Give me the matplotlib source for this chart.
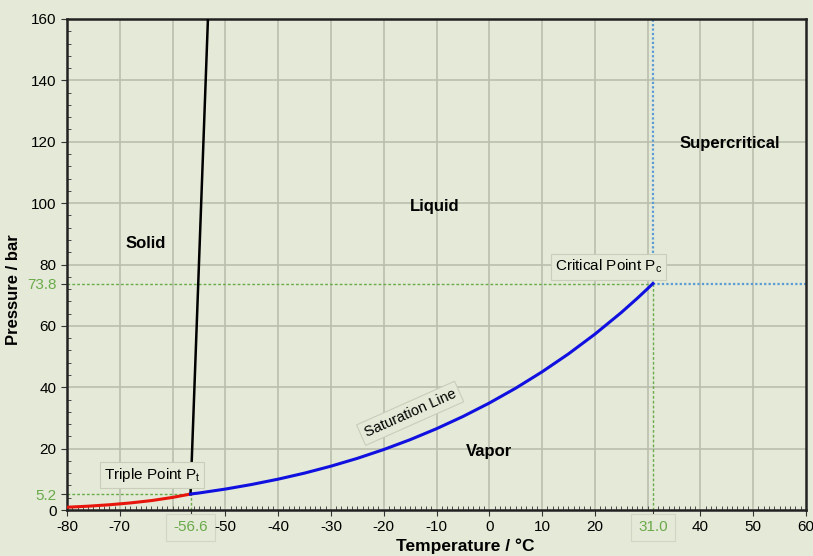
import numpy as np
import matplotlib
matplotlib.use('Agg')
import matplotlib.pyplot as plt
from matplotlib.ticker import MultipleLocator

plt.rcParams['font.family'] = ['Liberation Sans', 'DejaVu Sans']

# CO2 phase diagram data
sub_T = [-80, -76, -72, -68, -64, -60, -56.6]
sub_P = [0.9, 1.24, 1.7, 2.3, 3.07, 4.1, 5.2]

melt_T = [-56.6, -53.3]
melt_P = [5.2, 160]

sat_T = [-56.6, -55, -50, -45, -40, -35, -30, -25, -20, -15, -10, -5, 0,
         5, 10, 15, 20, 25, 28, 30, 31.0]
sat_P = [5.2, 5.54, 6.82, 8.32, 10.05, 12.02, 14.28, 16.83, 19.7, 22.91, 26.49,
         30.46, 34.85, 39.69, 45.02, 50.87, 57.29, 64.34, 68.93, 72.14, 73.8]

triple = (-56.6, 5.2)
critical = (31.0, 73.8)

xticks = [-80, -70, -56.6, -50, -40, -30, -20, -10, 0, 10, 20, 31.0, 40, 50, 60]
xticklabels = ['-80', '-70', '-56.6', '-50', '-40', '-30', '-20', '-10', '0',
               '10', '20', '31.0', '40', '50', '60']
yticks = [0, 5.2, 20, 40, 60, 73.8, 80, 100, 120, 140, 160]
yticklabels = ['0', '5.2', '20', '40', '60', '73.8', '80', '100', '120', '140', '160']

bg = '#e4ead7'
green = '#6aaa4a'
W, H = 813, 556

fig = plt.figure(figsize=(W / 100, H / 100), dpi=100, facecolor=bg)
ax = fig.add_axes([67 / W, 46 / H, 739 / W, 491 / H], facecolor=bg)

# grid
for gx in range(-70, 60, 10):
    ax.axvline(gx, color='#b9bfac', lw=1.2, zorder=0)
for gy in range(20, 160, 20):
    ax.axhline(gy, color='#b9bfac', lw=1.2, zorder=0)

# guide lines
dash = (0, (2, 1.5))
ax.plot([-80, triple[0]], [triple[1], triple[1]], color=green, ls=dash, lw=1, zorder=1)
ax.plot([triple[0], triple[0]], [0, triple[1]], color=green, ls=dash, lw=1, zorder=1)
ax.plot([-80, critical[0]], [critical[1], critical[1]], color=green, ls=dash, lw=1, zorder=1)
ax.plot([critical[0], critical[0]], [0, critical[1]], color=green, ls=dash, lw=1, zorder=1)
ax.plot([critical[0], critical[0]], [critical[1], 160], color='#5b9bd5', ls=(0, (1, 1)), lw=1.6, zorder=1)
ax.plot([critical[0], 60], [critical[1], critical[1]], color='#5b9bd5', ls=(0, (1, 1)), lw=1.6, zorder=1)

# phase lines
ax.plot(sub_T, sub_P, color='#e8150c', lw=2.2, zorder=3)
ax.plot(melt_T, melt_P, color='black', lw=1.8, zorder=3)
ax.plot(sat_T, sat_P, color='#1010e0', lw=2.2, zorder=3)

ax.set_xlim(-80, 60)
ax.set_ylim(0, 160)
ax.set_xticks(xticks)
ax.set_yticks(yticks)
ax.set_xticklabels(xticklabels)
ax.set_yticklabels(yticklabels)
ax.xaxis.set_minor_locator(MultipleLocator(1))
ax.yaxis.set_minor_locator(MultipleLocator(4))
ax.tick_params(which='major', direction='out', length=4, labelsize=11, color='#333333')
ax.tick_params(which='minor', direction='in', length=3, color='#333333')

for lbl in ax.get_xticklabels():
    if lbl.get_text() in ('-56.6', '31.0'):
        lbl.set_color(green)
        lbl.set_bbox(dict(facecolor=bg, edgecolor='#d0d6c4', pad=5, lw=0.8))
for lbl in ax.get_yticklabels():
    if lbl.get_text() in ('5.2', '73.8'):
        lbl.set_color(green)

for s in ax.spines.values():
    s.set_linewidth(1.8)
    s.set_color('#222222')

fig.text(465 / W, 1 - 546 / H, 'Temperature / °C', fontsize=12.5, fontweight='bold',
         ha='center', va='center')
fig.text(14 / W, 1 - 290 / H, 'Pressure / bar', fontsize=12, fontweight='bold',
         ha='center', va='center', rotation=90)

# region labels
for txt, x, y in [('Solid', -65, 87), ('Liquid', -10.3, 99),
                  ('Supercritical', 45.6, 119.5), ('Vapor', 0, 19)]:
    ax.text(x, y, txt, fontsize=12, fontweight='bold', ha='center', va='center', zorder=5)

box = dict(facecolor=bg, edgecolor='#c8ceba', pad=3, lw=0.8)
ax.text(-63.9, 11.4, 'Triple Point P$_\\mathregular{t}$', fontsize=11, ha='center', va='center',
        bbox=box, zorder=5)
ax.text(22.6, 79.3, 'Critical Point P$_\\mathregular{c}$', fontsize=11, ha='center', va='center',
        bbox=box, zorder=5)
ax.text(-15, 31.5, 'Saturation Line', fontsize=10.5, ha='center', va='center', rotation=24,
        bbox=box, zorder=5)

fig.savefig('out.png', dpi=100, facecolor=bg)
